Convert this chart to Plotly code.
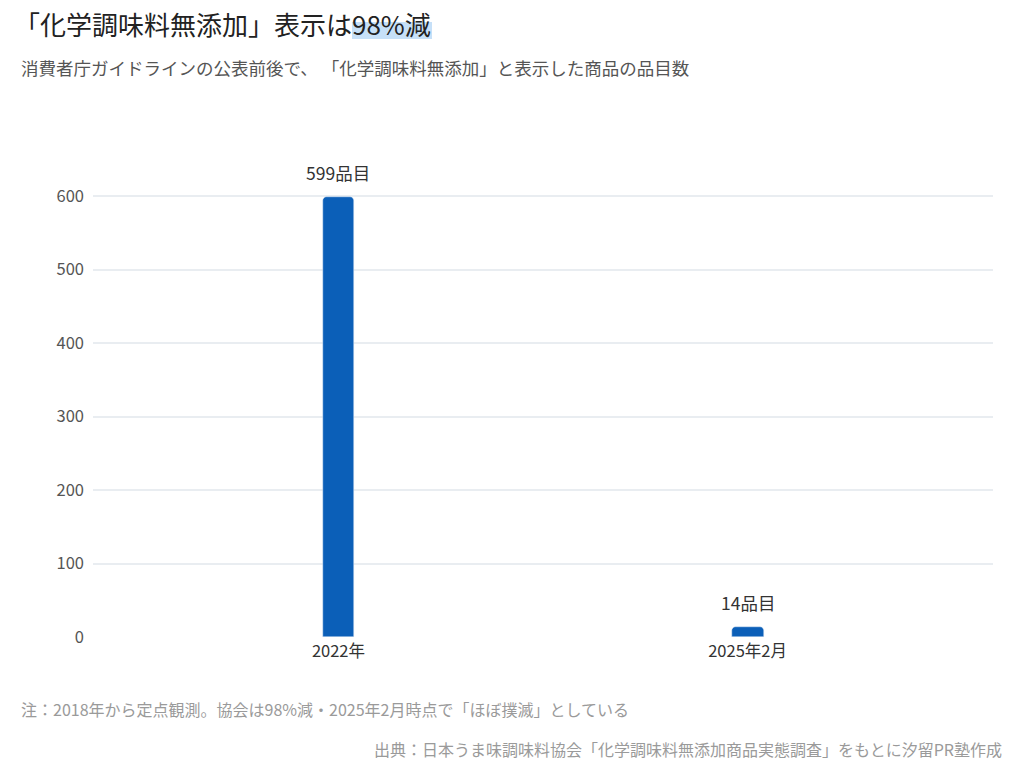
import plotly.graph_objects as go

categories = ["2022年", "2025年2月"]
values = [599, 14]
y_ticks = [0, 100, 200, 300, 400, 500, 600]

W, H = 1024, 768
L, R, T, B = 93, 31, 152, 131
PW, PH = W - L - R, H - T - B

def px(x):
    return (x - L) / PW

def py(y):
    return (H - B - y) / PH

FONT = "Noto Sans CJK JP"

fig = go.Figure()
fig.add_trace(go.Bar(
    x=categories, y=values,
    width=0.078,
    marker=dict(color="#0b5fb8", cornerradius=4),
    cliponaxis=False,
    hoverinfo="skip",
))

for c, v in zip(categories, values):
    fig.add_annotation(x=c, y=v, xref="x", yref="y", text=f"{v}品目",
                       showarrow=False, yanchor="bottom", yshift=10,
                       font=dict(size=17.5, color="#333333", family=FONT))

fig.update_layout(
    width=W, height=H,
    margin=dict(l=L, r=R, t=T, b=B),
    paper_bgcolor="white", plot_bgcolor="white",
    font=dict(family=FONT, color="#555555", size=15),
    showlegend=False,
    bargap=0,
    xaxis=dict(
        type="category", range=[-0.6, 1.6],
        showgrid=False, zeroline=False, showline=False,
        ticks="", tickfont=dict(size=16.5, color="#333333"),
        ticklabelstandoff=2,
    ),
    yaxis=dict(
        range=[0, 660], tickvals=y_ticks,
        showgrid=True, gridcolor="#e9edf1", gridwidth=1.5,
        zeroline=False, showline=False, ticks="",
        tickfont=dict(size=16.5, color="#555555"),
        ticklabelstandoff=8,
    ),
)

# highlight marker behind "98%減"
fig.add_shape(type="rect", xref="paper", yref="paper",
              x0=px(352), x1=px(432), y0=py(39), y1=py(22),
              fillcolor="#c6e0f8", line=dict(width=0), layer="below")

fig.add_annotation(xref="paper", yref="paper", x=px(12), y=py(23),
                   xanchor="left", yanchor="middle", showarrow=False,
                   text="「化学調味料無添加」表示は98%減",
                   font=dict(size=26, color="#222222", family=FONT))
fig.add_annotation(xref="paper", yref="paper", x=px(19), y=py(68),
                   xanchor="left", yanchor="middle", showarrow=False,
                   text="消費者庁ガイドラインの公表前後で、 「化学調味料無添加」と表示した商品の品目数",
                   font=dict(size=17.5, color="#555555", family=FONT))
fig.add_annotation(xref="paper", yref="paper", x=px(19), y=py(709),
                   xanchor="left", yanchor="middle", showarrow=False,
                   text="注：2018年から定点観測。協会は98%減・2025年2月時点で「ほぼ撲滅」としている",
                   font=dict(size=16, color="#9a9a9a", family=FONT))
fig.add_annotation(xref="paper", yref="paper", x=px(1004), y=py(749),
                   xanchor="right", yanchor="middle", showarrow=False,
                   text="出典：日本うま味調味料協会「化学調味料無添加商品実態調査」をもとに汐留PR塾作成",
                   font=dict(size=16, color="#9a9a9a", family=FONT))

fig.write_html("out.html")
